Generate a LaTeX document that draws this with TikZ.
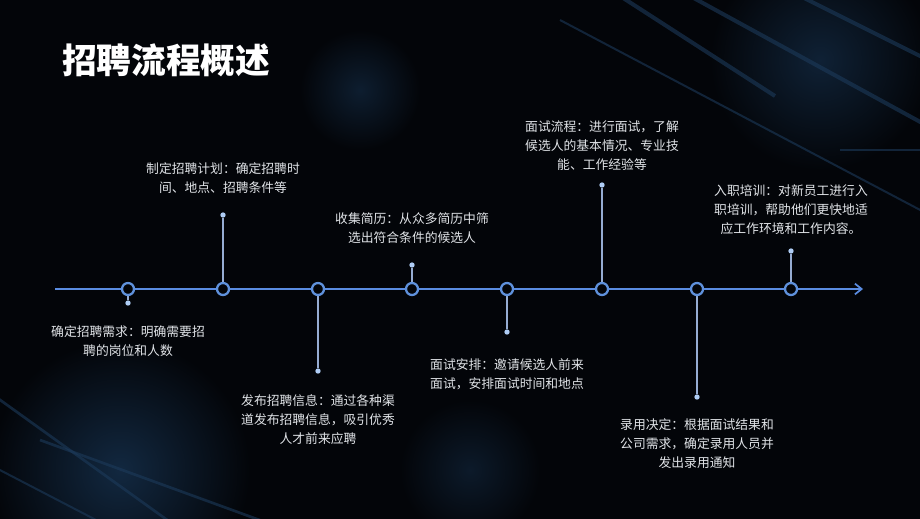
\documentclass[tikz,border=0pt]{standalone}
\usepackage{fontspec}
\newfontfamily\cjk{Noto Sans CJK SC}
\usetikzlibrary{arrows.meta}
\definecolor{bgc}{RGB}{3,5,9}
\definecolor{axisc}{RGB}{90,140,225}
\definecolor{stemc}{RGB}{150,172,210}
\definecolor{dotc}{RGB}{175,205,245}
\definecolor{ringc}{RGB}{95,145,220}
\definecolor{txtc}{RGB}{225,228,232}
\definecolor{glowc}{RGB}{18,40,64}
\definecolor{linec}{RGB}{28,58,90}
\tikzset{
  ring/.style={circle,draw=ringc,line width=1.7pt,fill=bgc,minimum size=9pt,inner sep=0pt},
  tip/.style={circle,fill=dotc,minimum size=4pt,inner sep=0pt},
  stem/.style={draw=stemc,line width=1pt},
  axis/.style={draw=axisc,line width=1.3pt},
  lbl/.style={text=txtc,font=\cjk\fontsize{9.6pt}{14.3pt}\selectfont,align=center,inner sep=0pt},
  deco/.style={draw=linec,line width=3pt,opacity=0.6},
}
\begin{document}
\begin{tikzpicture}[x=0.75pt,y=-0.75pt]
\useasboundingbox (0,0) rectangle (920,518);
\fill[bgc] (-4,-4) rectangle (924,522);
% background glow
\begin{scope}
\clip (-4,-4) rectangle (924,522);
\shade[inner color=glowc,outer color=bgc] (120,470) circle (130);
\shade[inner color=glowc!70!bgc,outer color=bgc] (360,90) circle (60);
\shade[inner color=glowc!80!bgc,outer color=bgc] (820,60) circle (110);
\shade[inner color=glowc!60!bgc,outer color=bgc] (470,470) circle (70);
% top right tech lines
\draw[deco] (620,-4) -- (775,96);
\draw[deco] (690,-4) -- (924,124);
\draw[deco] (800,-4) -- (924,58);
\draw[deco,line width=1.5pt] (560,20) -- (924,212);
\draw[deco,line width=1.5pt] (840,150) -- (924,150);
% bottom left tech lines
\draw[deco,line width=2pt] (-4,397) -- (170,522);
\draw[deco,line width=2pt] (40,440) -- (265,522);
\draw[deco,line width=1.5pt] (-4,468) -- (100,522);
\end{scope}
% title
\node[anchor=west,text=white,font=\cjk\bfseries\fontsize{26pt}{30pt}\selectfont,inner sep=0pt] (title) at (62,60) {招聘流程概述};
% axis
\coordinate (s) at (55,289);
\coordinate (e) at (863,289);
\draw[axis,-{Straight Barb[length=5pt,width=8pt]}] (s) -- (e);
% rings, tips, labels
\foreach \i/\x/\yy in {1/128/303,2/223/215,3/318/371,4/412/265,5/507/332,6/602/185,7/697/397,8/791/251}{
  \node[tip] (d\i) at (\x,\yy) {};
  \draw[stem] (\x,289) -- (d\i);
  \node[ring] (c\i) at (\x,289) {};
}
\node[lbl] (t1) at (128,341) {确定招聘需求：明确需要招\\聘的岗位和人数};
\node[lbl] (t2) at (223,178) {制定招聘计划：确定招聘时\\间、地点、招聘条件等};
\node[lbl] (t3) at (318,419.5) {发布招聘信息：通过各种渠\\道发布招聘信息，吸引优秀\\人才前来应聘};
\node[lbl] (t4) at (412,228.5) {收集简历：从众多简历中筛\\选出符合条件的候选人};
\node[lbl] (t5) at (507,374) {面试安排：邀请候选人前来\\面试，安排面试时间和地点};
\node[lbl] (t6) at (602,145.5) {面试流程：进行面试，了解\\候选人的基本情况、专业技\\能、工作经验等};
\node[lbl] (t7) at (697,444) {录用决定：根据面试结果和\\公司需求，确定录用人员并\\发出录用通知};
\node[lbl] (t8) at (791,209.5) {入职培训：对新员工进行入\\职培训，帮助他们更快地适\\应工作环境和工作内容。};
\end{tikzpicture}
\end{document}
